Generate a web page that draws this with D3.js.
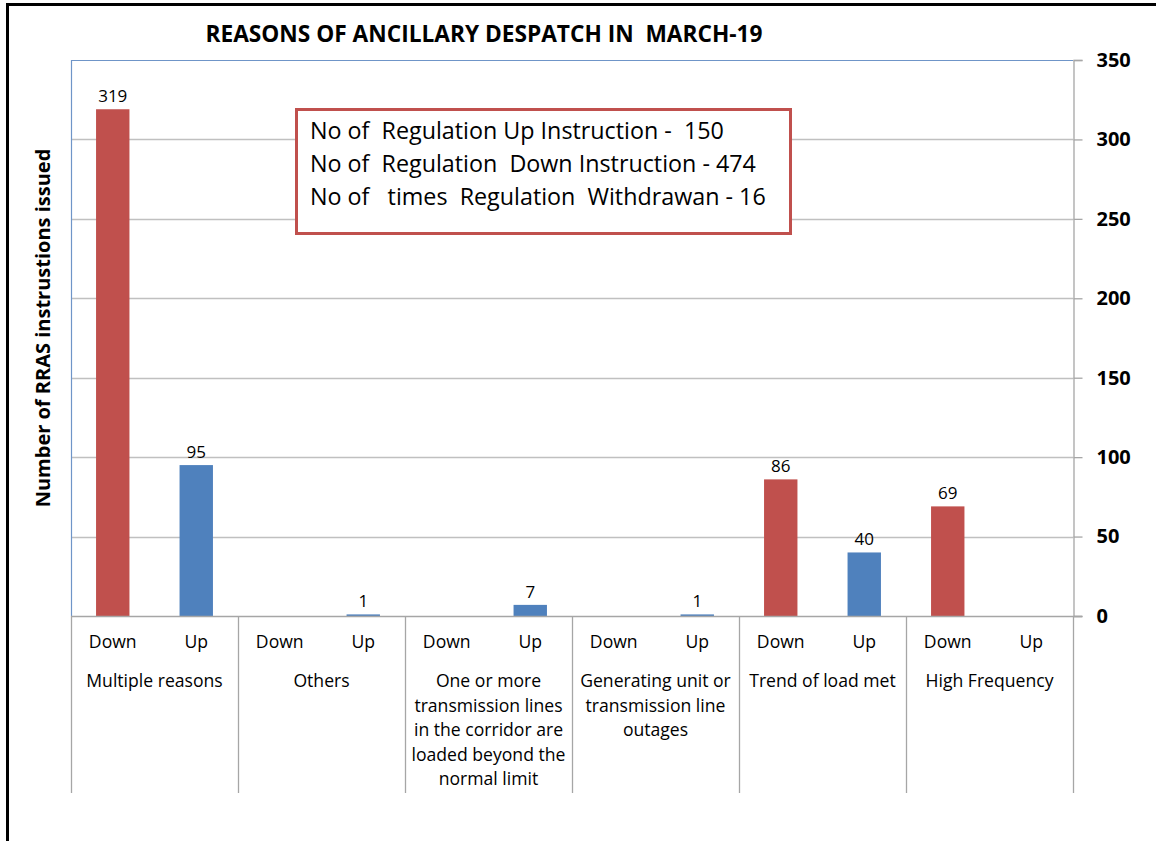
<!DOCTYPE html>
<html>
<head>
<meta charset="utf-8">
<script src="https://cdn.jsdelivr.net/npm/d3@7"></script>
<style>
  body { margin: 0; background: #fff; }
  svg text { font-family: "Open Sans", Lato, sans-serif; fill: #000; }
</style>
</head>
<body>
<div id="chart"></div>
<script>
'use strict'

// chart data
const categories = ["Multiple reasons", "Others", "One or more transmission lines in the corridor are loaded beyond the normal limit", "Generating unit or transmission line outages", "Trend of load met", "High Frequency"]
const categoryLines = [
	["Multiple reasons"],
	["Others"],
	["One or more", "transmission lines", "in the corridor are", "loaded beyond the", "normal limit"],
	["Generating unit or", "transmission line", "outages"],
	["Trend of load met"],
	["High Frequency"]
]
const directions = ["Down", "Up"]
const downValues = [319, 0, 0, 0, 86, 69]
const upValues = [95, 1, 7, 1, 40, 0]
const yTicks = [0, 50, 100, 150, 200, 250, 300, 350]
const titleText = "REASONS OF ANCILLARY DESPATCH IN  MARCH-19"
const yTitleText = "Number of RRAS instrustions issued"
const noteLines = [
	"No of  Regulation Up Instruction -  150",
	"No of  Regulation  Down Instruction - 474",
	"No of   times  Regulation  Withdrawan - 16"
]

const colors = { Down: "#C0504D", Up: "#4F81BD" }
const fontFam = '"Open Sans", Lato, sans-serif'

function draw(){
	let width = 1156
	let height = 841
	let plot = { left: 71, right: 1073, top: 60, bottom: 616, labelsBottom: 793 }

	let svg = d3.select("#chart").append("svg")
		.attr("width", width)
		.attr("height", height)

	// outer frame (only top and left edges visible)
	svg.append("line").attr("x1", 7.5).attr("x2", width).attr("y1", 4.5).attr("y2", 4.5)
		.attr("stroke", "#000").attr("stroke-width", 3)
	svg.append("line").attr("x1", 7.5).attr("x2", 7.5).attr("y1", 3).attr("y2", height)
		.attr("stroke", "#000").attr("stroke-width", 3)

	let x = d3.scaleBand().domain(categories).range([plot.left, plot.right]).padding(0)
	let xInner = d3.scaleBand().domain(directions).range([0, x.bandwidth()])
		.paddingInner(0.6).paddingOuter(0.3)
	let y = d3.scaleLinear().domain([0, 350]).range([plot.bottom, plot.top])

	// gridlines
	svg.append("g")
		.selectAll("line")
		.data(yTicks.filter(function(t){ return t > 0 && t < 350 }))
		.join("line")
		.attr("x1", plot.left).attr("x2", plot.right)
		.attr("y1", function(d){ return Math.round(y(d)) + 0.5 })
		.attr("y2", function(d){ return Math.round(y(d)) + 0.5 })
		.attr("stroke", "#c0c0c0").attr("stroke-width", 1.3)

	// plot area border (top/left blue)
	svg.append("path")
		.attr("d", "M" + (plot.left + 0.5) + "," + plot.bottom + "V" + (plot.top + 0.5) + "H" + plot.right)
		.attr("fill", "none").attr("stroke", "#6f95c8").attr("stroke-width", 1.2)

	// right value axis
	let yAxis = svg.append("g")
		.attr("transform", "translate(" + (plot.right + 0.5) + ",0)")
		.call(d3.axisRight(y).tickValues(yTicks).tickSize(9).tickPadding(14))
	yAxis.select(".domain").attr("stroke", "#a6a6a6").attr("stroke-width", 1.3)
	yAxis.selectAll(".tick line").attr("stroke", "#a6a6a6").attr("stroke-width", 1.3)
	yAxis.selectAll(".tick text")
		.style("font-family", fontFam)
		.style("font-weight", "bold").style("font-size", "20px").attr("fill", "#000")

	// bars
	let rows = categories.map(function(c, i){
		return [{ cat: c, dir: "Down", v: downValues[i] }, { cat: c, dir: "Up", v: upValues[i] }]
	}).flat()

	svg.append("g")
		.selectAll("rect")
		.data(rows.filter(function(d){ return d.v > 0 }))
		.join("rect")
		.attr("x", function(d){ return x(d.cat) + xInner(d.dir) })
		.attr("width", xInner.bandwidth())
		.attr("y", function(d){ return y(d.v) })
		.attr("height", function(d){ return y(0) - y(d.v) })
		.attr("fill", function(d){ return colors[d.dir] })

	// data labels
	svg.append("g")
		.selectAll("text")
		.data(rows.filter(function(d){ return d.v > 0 }))
		.join("text")
		.attr("x", function(d){ return x(d.cat) + xInner(d.dir) + xInner.bandwidth() / 2 })
		.attr("y", function(d){ return y(d.v) - 7 })
		.attr("text-anchor", "middle")
		.style("font-size", "17px")
		.text(function(d){ return d.v })

	// zero line and category separators
	svg.append("line")
		.attr("x1", plot.left).attr("x2", plot.right + 9)
		.attr("y1", plot.bottom + 0.5).attr("y2", plot.bottom + 0.5)
		.attr("stroke", "#a6a6a6").attr("stroke-width", 1.3)

	let seps = categories.map(function(c){ return x(c) }).concat([plot.right])
	svg.append("g")
		.selectAll("line")
		.data(seps)
		.join("line")
		.attr("x1", function(d){ return Math.round(d) + 0.5 })
		.attr("x2", function(d){ return Math.round(d) + 0.5 })
		.attr("y1", plot.bottom).attr("y2", plot.labelsBottom)
		.attr("stroke", "#a6a6a6").attr("stroke-width", 1.3)

	// Down / Up tick labels
	svg.append("g")
		.selectAll("text")
		.data(rows)
		.join("text")
		.attr("x", function(d){ return x(d.cat) + xInner(d.dir) + xInner.bandwidth() / 2 })
		.attr("y", 648)
		.attr("text-anchor", "middle")
		.style("font-size", "17.6px")
		.text(function(d){ return d.dir })

	// category labels
	let catG = svg.append("g")
		.selectAll("text")
		.data(categories)
		.join("text")
		.attr("x", function(d){ return x(d) + x.bandwidth() / 2 })
		.attr("y", 687)
		.attr("text-anchor", "middle")
		.style("font-size", "17.6px")
	catG.selectAll("tspan")
		.data(function(d, i){ return categoryLines[i] })
		.join("tspan")
		.attr("x", function(){ return d3.select(this.parentNode).attr("x") })
		.attr("dy", function(d, i){ return i == 0 ? 0 : 24.6 })
		.text(function(d){ return d })

	// title
	svg.append("text")
		.attr("x", 484).attr("y", 42)
		.attr("text-anchor", "middle")
		.style("font-size", "22.7px").style("font-weight", "bold")
		.style("white-space", "pre")
		.text(titleText)

	// y axis title
	svg.append("text")
		.attr("transform", "translate(50,328) rotate(-90)")
		.attr("text-anchor", "middle")
		.style("font-size", "20px").style("font-weight", "bold")
		.text(yTitleText)

	// note box
	svg.append("rect")
		.attr("x", 296.5).attr("y", 109.5).attr("width", 494).attr("height", 124)
		.attr("fill", "#fff").attr("stroke", "#C0504D").attr("stroke-width", 3)
	svg.append("g")
		.selectAll("text")
		.data(noteLines)
		.join("text")
		.attr("x", 310)
		.attr("y", function(d, i){ return 139 + i * 32.8 })
		.style("font-size", "23.3px")
		.style("white-space", "pre")
		.text(function(d){ return d })
}

draw()
</script>
</body>
</html>
